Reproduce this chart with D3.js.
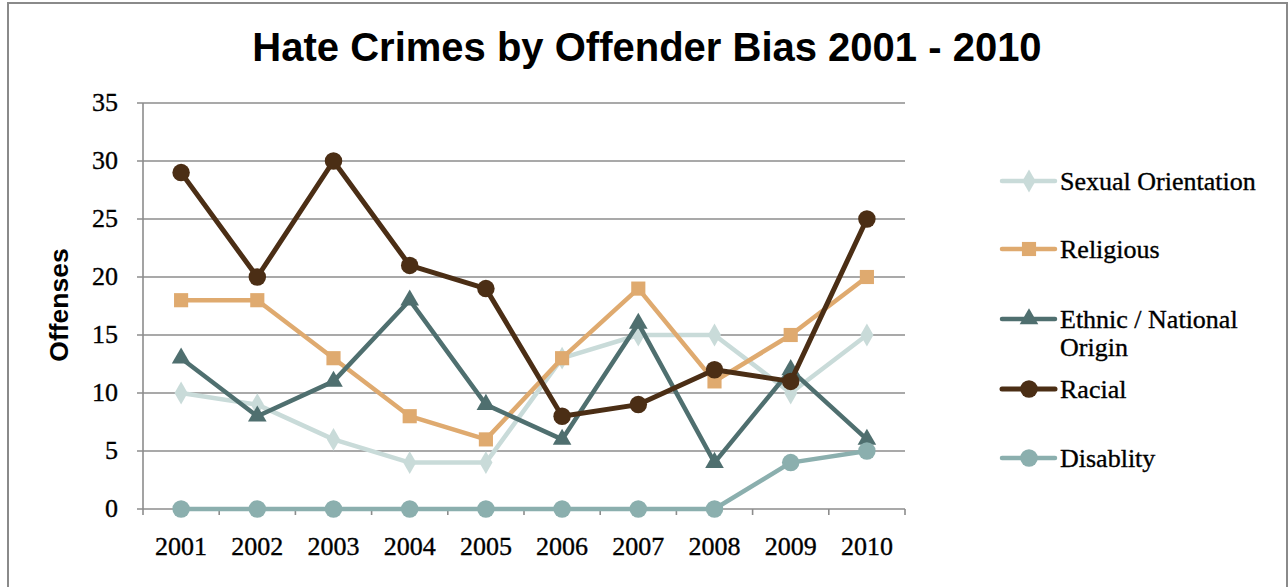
<!DOCTYPE html>
<html><head><meta charset="utf-8">
<script src="https://cdn.jsdelivr.net/npm/d3@7"></script>
<style>body{margin:0;background:#fff}svg{display:block}</style>
</head><body><svg id="c" width="1288" height="587"></svg>
<script>
const years = ["2001","2002","2003","2004","2005","2006","2007","2008","2009","2010"];
const yTicks = [0,5,10,15,20,25,30,35];
const seriesNames = ["Sexual Orientation","Religious","Ethnic / National Origin","Racial","Disablity"];
const sexualOrientation = [10,9,6,4,4,13,15,15,10,15];
const religious = [18,18,13,8,6,13,19,11,15,20];
const ethnicNational = [13,8,11,18,9,6,16,4,12,6];
const racial = [29,20,30,21,19,8,9,12,11,25];
const disability = [0,0,0,0,0,0,0,0,4,5];
const colors = ["#c9dbd9","#dfaa6f","#4f6f6f","#4b2e15","#8bafae"];
const markers = ["diamond","square","triangle","circle","circle"];

const svg = d3.select("#c");
svg.append("rect").attr("x",8).attr("y",3).attr("width",1279).attr("height",600)
  .attr("fill","#fff").attr("stroke","#8a8a8a").attr("stroke-width",2);

const L=143,R=905,T=103,B=509;
const xb = d3.scaleBand().domain(years).range([L,R]);
const xc = d => xb(d)+xb.bandwidth()/2;
const y = d3.scaleLinear().domain([0,35]).range([B,T]);
const serif = "Liberation Serif, Times New Roman, serif";

svg.append("text").attr("x",647).attr("y",61).attr("text-anchor","middle")
  .attr("font-family","Liberation Sans, Arial, sans-serif").attr("font-weight","bold")
  .attr("font-size",40).attr("fill","#000").text("Hate Crimes by Offender Bias 2001 - 2010");

const grid = svg.append("g");
grid.selectAll("line.g").data(yTicks).join("line")
  .attr("x1",L-6).attr("x2",R).attr("y1",d=>y(d)).attr("y2",d=>y(d))
  .attr("stroke","#8c8c8c").attr("stroke-width",1.6);
grid.append("line").attr("x1",L).attr("x2",L).attr("y1",T).attr("y2",B+6)
  .attr("stroke","#8c8c8c").attr("stroke-width",1.6);
const bounds = years.map(d=>xb(d)).concat([R]);
grid.selectAll("line.xt").data(bounds.slice(1)).join("line")
  .attr("x1",d=>d).attr("x2",d=>d).attr("y1",B).attr("y2",B+6)
  .attr("stroke","#8c8c8c").attr("stroke-width",1.6);

svg.append("g").selectAll("text").data(yTicks).join("text")
  .attr("x",118).attr("y",d=>y(d)+8).attr("text-anchor","end")
  .attr("font-family",serif).attr("font-size",26).attr("stroke","#000").attr("stroke-width",0.35)
  .attr("fill","#000").text(d=>d);
svg.append("g").selectAll("text").data(years).join("text")
  .attr("x",d=>xc(d)).attr("y",555).attr("text-anchor","middle")
  .attr("font-family",serif).attr("font-size",26).attr("stroke","#000").attr("stroke-width",0.35)
  .attr("fill","#000").text(d=>d);

svg.append("text").attr("transform","translate(68,305) rotate(-90)").attr("text-anchor","middle")
  .attr("font-family","Liberation Sans, Arial, sans-serif").attr("font-weight","bold")
  .attr("font-size",26.5).attr("fill","#000").text("Offenses");

const allSeries = [sexualOrientation,religious,ethnicNational,racial,disability];
const symbolOf = {diamond:d3.symbolDiamond, square:d3.symbolSquare, triangle:d3.symbolTriangle, circle:d3.symbolCircle};
const sizeOf = {diamond:150, square:200, triangle:150, circle:240};
const line = d3.line().x((d,i)=>xc(years[i])).y(d=>y(d));

allSeries.forEach((vals,si)=>{
  const g = svg.append("g");
  g.append("path").datum(vals).attr("d",line).attr("fill","none")
    .attr("stroke",colors[si]).attr("stroke-width",si===3?5:4.5).attr("stroke-linejoin","round");
  const sym = d3.symbol().type(symbolOf[markers[si]]).size(sizeOf[markers[si]]);
  g.selectAll("path.m").data(vals).join("path").attr("class","m")
    .attr("transform",(d,i)=>`translate(${xc(years[i])},${y(d)})`)
    .attr("d",sym).attr("fill",colors[si]);
});

const legY = [181,249,319,389,458];
const lg = svg.append("g");
seriesNames.forEach((n,si)=>{
  const ly = legY[si];
  lg.append("line").attr("x1",1002).attr("x2",1055).attr("y1",ly).attr("y2",ly)
    .attr("stroke",colors[si]).attr("stroke-width",si===3?5:4.5).attr("stroke-linecap","round");
  const sym = d3.symbol().type(symbolOf[markers[si]]).size(sizeOf[markers[si]]);
  lg.append("path").attr("transform",`translate(1029,${ly})`).attr("d",sym).attr("fill",colors[si]);
  const t = lg.append("text").attr("x",1060).attr("y",ly+9)
    .attr("font-family",serif).attr("font-size",26).attr("stroke","#000").attr("stroke-width",0.35)
    .attr("fill","#000");
  if(n==="Ethnic / National Origin"){
    t.append("tspan").attr("x",1060).text("Ethnic / National");
    t.append("tspan").attr("x",1060).attr("dy",28).text("Origin");
  } else t.text(n);
});
</script></body></html>
